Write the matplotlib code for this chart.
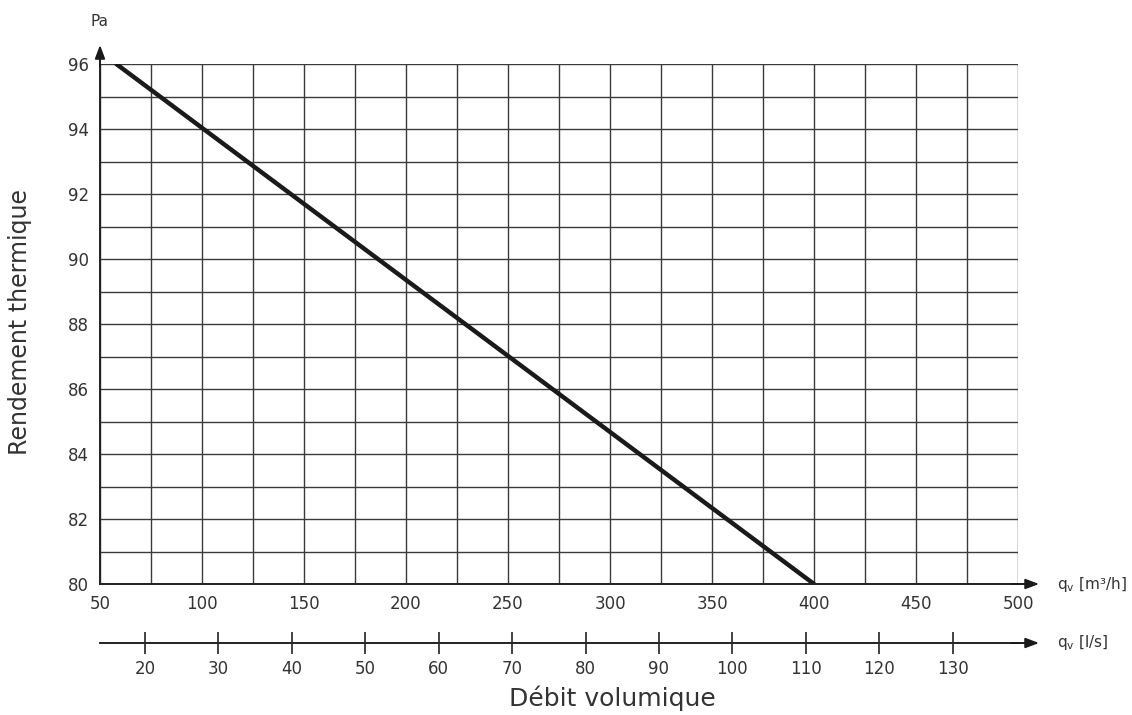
import numpy as np
import matplotlib.pyplot as plt

# data
flow_m3h = [58, 400]
efficiency = [96, 80]
x_ticks = [50, 100, 150, 200, 250, 300, 350, 400, 450, 500]
y_ticks = [80, 82, 84, 86, 88, 90, 92, 94, 96]
ls_ticks = [20, 30, 40, 50, 60, 70, 80, 90, 100, 110, 120, 130]

plt.rcParams['font.family'] = ['DejaVu Sans']
txt = '#333333'

fig = plt.figure(figsize=(11.32, 7.15), dpi=100)
W, H = 1132, 715
left, right, top, bottom = 100, 1018, 64, 584
ax = fig.add_axes([left / W, (H - bottom) / H, (right - left) / W, (bottom - top) / H])

ax.set_xlim(50, 500)
ax.set_ylim(80, 96)
ax.set_xticks(x_ticks)
ax.set_yticks(y_ticks)
ax.set_xticks(np.arange(50, 501, 25), minor=True)
ax.set_yticks(np.arange(80, 97, 1), minor=True)
ax.grid(which='both', color='#3a3a3a', lw=1.0)
ax.set_axisbelow(True)
ax.tick_params(which='both', length=0, labelsize=12, labelcolor=txt)
ax.tick_params(axis='x', pad=8)
ax.tick_params(axis='y', pad=8)
for s in ['top', 'right']:
    ax.spines[s].set_visible(False)
for s in ['left', 'bottom']:
    ax.spines[s].set_color('#222222')
    ax.spines[s].set_linewidth(1.4)

ax.plot(flow_m3h, efficiency, color='#1a1a1a', lw=3.2, solid_capstyle='round')

# axis arrows
arr = dict(arrowstyle='-|>,head_length=0.8,head_width=0.3', color='#1a1a1a', lw=1.4)
ax.annotate('', xy=(1.026, 0), xytext=(0.99, 0), xycoords='axes fraction',
            arrowprops=arr, annotation_clip=False)
ax.annotate('', xy=(0, 1.042), xytext=(0, 0.99), xycoords='axes fraction',
            arrowprops=arr, annotation_clip=False)

fig.text(left / W, 1 - 21 / H, 'Pa', ha='center', va='center', fontsize=11, color=txt)
ax.text(1.043, 0, r'q$_\mathregular{v}$ [m³/h]', transform=ax.transAxes,
        ha='left', va='center', fontsize=11, color=txt)
fig.text(20 / W, 1 - 322 / H, 'Rendement thermique', rotation=90, ha='center',
         va='center', fontsize=17, color=txt)
fig.text(612 / W, 1 - 698 / H, 'Débit volumique', ha='center', va='center',
         fontsize=18, color=txt)

# secondary axis in l/s
ax2 = fig.add_axes([left / W, (H - 643) / H, (right - left) / W, 0.0001])
ax2.set_xlim(50 / 3.6, 500 / 3.6)
ax2.set_yticks([])
ax2.set_xticks(ls_ticks)
ax2.tick_params(axis='x', direction='inout', length=16, width=1.2, color='#222222',
                labelsize=12, labelcolor=txt, pad=4)
for s in ['top', 'right', 'left']:
    ax2.spines[s].set_visible(False)
ax2.spines['bottom'].set_color('#222222')
ax2.spines['bottom'].set_linewidth(1.4)
ax2.patch.set_alpha(0)
ax2.annotate('', xy=(1.026, 0), xytext=(0.99, 0), xycoords='axes fraction',
             arrowprops=arr, annotation_clip=False)
ax2.text(1.043, 0, r'q$_\mathregular{v}$ [l/s]', transform=ax2.transAxes,
         ha='left', va='center', fontsize=11, color=txt)

fig.savefig('out.png', dpi=100)
